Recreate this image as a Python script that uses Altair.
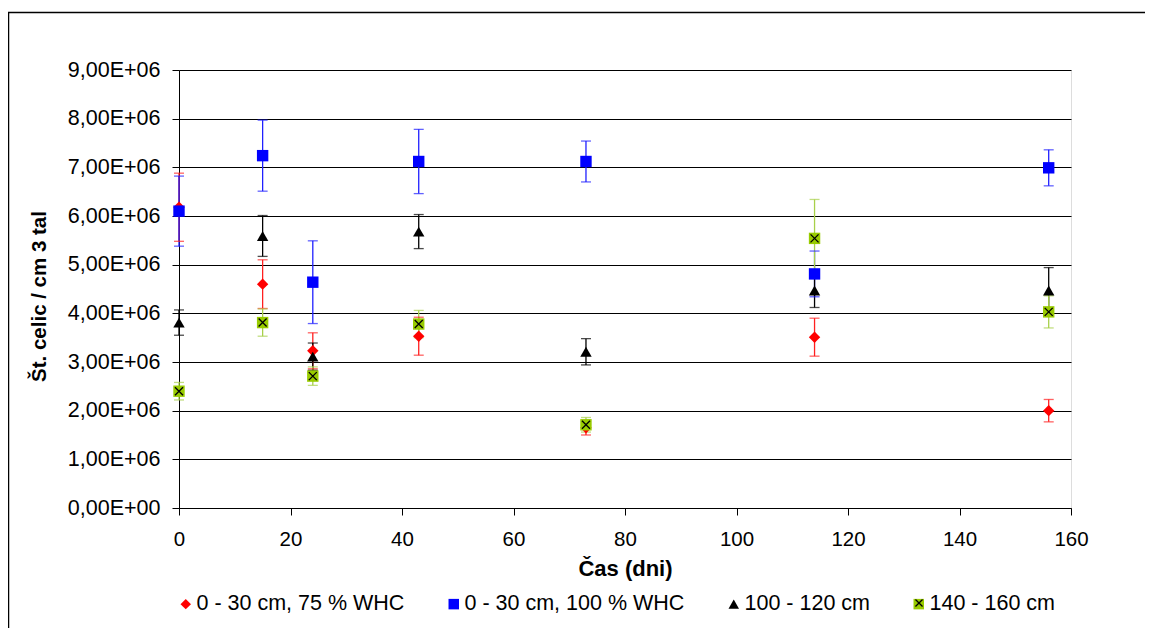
import altair as alt
import pandas as pd

series = ["0 - 30 cm, 75 % WHC", "0 - 30 cm, 100 % WHC", "100 - 120 cm", "140 - 160 cm"]
days = [0, 15, 24, 43, 73, 114, 156]

red_val = [6.18e6, 4.60e6, 3.23e6, 3.53e6, 1.65e6, 3.51e6, 2.00e6]
red_err = [0.70e6, 0.50e6, 0.37e6, 0.39e6, 0.15e6, 0.39e6, 0.23e6]
blue_val = [6.10e6, 7.24e6, 4.64e6, 7.12e6, 7.12e6, 4.81e6, 6.99e6]
blue_err = [0.72e6, 0.73e6, 0.85e6, 0.66e6, 0.42e6, 0.47e6, 0.37e6]
black_val = [3.81e6, 5.59e6, 3.11e6, 5.68e6, 3.21e6, 4.47e6, 4.47e6]
black_err = [0.26e6, 0.42e6, 0.28e6, 0.35e6, 0.27e6, 0.35e6, 0.47e6]
green_val = [2.40e6, 3.81e6, 2.71e6, 3.78e6, 1.71e6, 5.54e6, 4.03e6]
green_err = [0.18e6, 0.28e6, 0.19e6, 0.28e6, 0.15e6, 0.80e6, 0.33e6]

marker_colors = ["#FF0000", "#0000FF", "#000000", "#99CC00"]
bar_colors = ["#FF2020", "#2020FF", "#000000", "#A8D04A"]
shapes = ["diamond", "square", "triangle-up", "square"]
X_PATH = "M-1,-1L1,1M1,-1L-1,1"

rows = []
for s, vals, errs in zip(series, [red_val, blue_val, black_val, green_val],
                         [red_err, blue_err, black_err, green_err]):
    for d, v, e in zip(days, vals, errs):
        rows.append({"series": s, "day": d, "val": v, "lo": v - e, "hi": v + e,
                     "sidx": series.index(s)})
df = pd.DataFrame(rows)

FONT = "Liberation Sans"

xscale = alt.Scale(domain=[0, 160], nice=False)
yscale = alt.Scale(domain=[0, 9e6], nice=False)

x_enc = alt.X("day:Q", scale=xscale,
              axis=alt.Axis(title="Čas (dni)", values=list(range(0, 161, 20)),
                            grid=False, domainColor="black", tickColor="black",
                            tickSize=7, labelFontSize=20.5, labelColor="black",
                            labelPadding=14, labelFlush=False,
                            titleFontSize=22, titleFontWeight="bold",
                            titleColor="black", titleY=60, titleBaseline="middle",
                            labelFont=FONT, titleFont=FONT))
y_enc = alt.Y("val:Q", scale=yscale,
              axis=alt.Axis(title="Št. celic / cm 3 tal",
                            values=[i * 1e6 for i in range(10)],
                            labelExpr="datum.value == 0 ? '0,00E+00' : replace(format(datum.value / 1000000, '.2f'), '.', ',') + 'E+06'",
                            grid=True, gridColor="black", gridWidth=1,
                            domainColor="black", tickColor="black", tickSize=7,
                            labelFontSize=21.5, labelColor="black", labelPadding=12,
                            labelFlush=False,
                            titleFontSize=20.5, titleFontWeight="bold", titleColor="black",
                            titleX=-140, titleY=226, titleAngle=-90,
                            titleAlign="center", titleBaseline="middle",
                            labelFont=FONT, titleFont=FONT))

bar_color = alt.Color("series:N", scale=alt.Scale(domain=series, range=bar_colors), legend=None)

err_rule = alt.Chart(df).mark_rule(strokeWidth=1.3).encode(
    x="day:Q", y=alt.Y("lo:Q", scale=yscale), y2="hi:Q", color=bar_color)
cap_lo = alt.Chart(df).mark_tick(orient="horizontal", size=10, thickness=1.3).encode(
    x="day:Q", y=alt.Y("lo:Q", scale=yscale), color=bar_color)
cap_hi = alt.Chart(df).mark_tick(orient="horizontal", size=10, thickness=1.3).encode(
    x="day:Q", y=alt.Y("hi:Q", scale=yscale), color=bar_color)

legend = alt.Legend(orient="none", legendX=-4, legendY=523, direction="horizontal",
                    title=None, labelFontSize=21.5, labelFont=FONT, labelColor="black",
                    columnPadding=38, symbolSize=110, labelOffset=0,
                    symbolStrokeWidth=0, padding=0, labelLimit=500)

points = alt.Chart(df).mark_point(filled=True, opacity=1, size=130).encode(
    x=x_enc, y=y_enc,
    color=alt.Color("series:N", scale=alt.Scale(domain=series, range=marker_colors), legend=legend),
    shape=alt.Shape("series:N", scale=alt.Scale(domain=series, range=shapes), legend=legend),
    order=alt.Order("sidx:Q"),
)

green_df = df[df["series"] == series[3]].copy()
green_df["mk"] = "x"
xmarks = alt.Chart(green_df).mark_point(filled=False, stroke="black", strokeWidth=1.3,
                                        size=64, opacity=1).encode(
    x="day:Q", y=alt.Y("val:Q", scale=yscale),
    shape=alt.Shape("mk:N", scale=alt.Scale(domain=["x"], range=[X_PATH]),
                    legend=alt.Legend(orient="none", legendX=735, legendY=528,
                                      title=None, labelExpr="''", padding=0,
                                      symbolSize=50, symbolStrokeColor="black",
                                      symbolFillColor="transparent",
                                      symbolStrokeWidth=1.3)),
)

border = alt.Chart(pd.DataFrame({"a": [0]})).mark_rect(
    fill="transparent", stroke="black", strokeWidth=1.5).encode(
    x=alt.value(-170.5), x2=alt.value(1200), y=alt.value(-57.5), y2=alt.value(800))

chart = alt.layer(border, err_rule, cap_lo, cap_hi, points, xmarks).resolve_scale(
    shape="independent", color="independent"
).properties(
    width=892, height=438,
    padding={"left": 171, "top": 62, "right": 74, "bottom": 120},
    autosize=alt.AutoSizeParams(type="none"),
).configure_view(stroke="black", strokeWidth=1.3).configure(font=FONT, background="white")

chart.save("out.html", embed_options={"renderer": "svg", "actions": False})
